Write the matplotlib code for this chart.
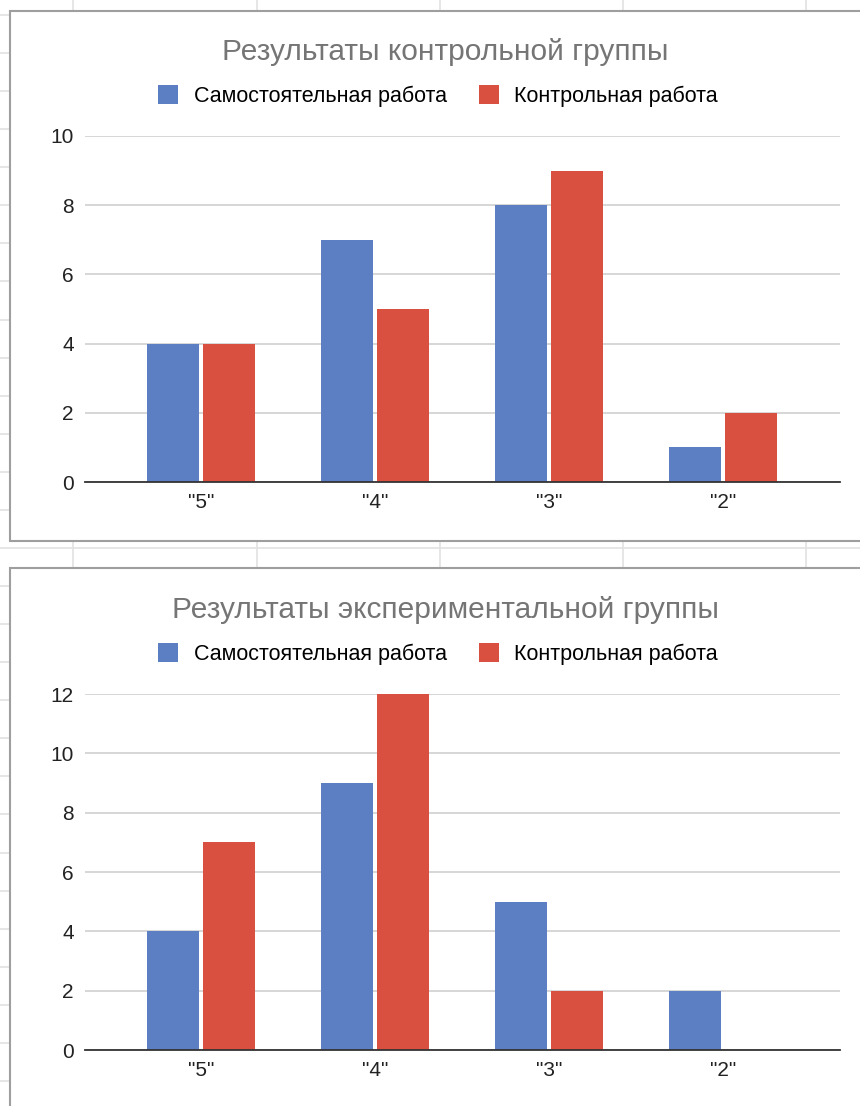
import numpy as np
import matplotlib.pyplot as plt
from matplotlib.patches import Rectangle, Patch

plt.rcParams['font.family'] = ['Liberation Sans', 'DejaVu Sans']

categories = ['"5"', '"4"', '"3"', '"2"']
series_names = ["Самостоятельная работа", "Контрольная работа"]

control_self = [4, 7, 8, 1]
control_test = [4, 5, 9, 2]
exp_self = [4, 9, 5, 2]
exp_test = [7, 12, 2, 0]

titles = ["Результаты контрольной группы", "Результаты экспериментальной группы"]

BLUE = "#5b7fc2"
RED = "#da5040"

W, H = 860, 1106
fig = plt.figure(figsize=(W / 100, H / 100), dpi=100)

# spreadsheet background: cell grid + chart frames
bg = fig.add_axes([0, 0, 1, 1], zorder=-5)
bg.set_xlim(0, W)
bg.set_ylim(H, 0)
bg.axis("off")
for x in [73, 257, 440, 623, 806]:
    bg.plot([x, x], [0, H], color="#e2e2e2", lw=1.2, zorder=1)
for y in np.arange(15, H, 38.07):
    bg.plot([0, W], [y, y], color="#e2e2e2", lw=1.2, zorder=1)
bg.add_patch(Rectangle((10, 11), 900, 530, facecolor="white", edgecolor="#9e9e9e",
                       lw=1.5, zorder=5))
bg.add_patch(Rectangle((10, 568), 900, 600, facecolor="white", edgecolor="#9e9e9e",
                       lw=1.5, zorder=5))


def draw_chart(ax, s1, s2, ymax, title, title_y, legend_y):
    x = np.arange(len(categories))
    w = 0.3
    ax.bar(x - 0.16, s1, w, color=BLUE, zorder=3)
    ax.bar(x + 0.16, s2, w, color=RED, zorder=3)
    ax.set_xlim(-0.667, 3.672)
    ax.set_ylim(0, ymax)
    ax.set_yticks(np.arange(0, ymax + 1, 2))
    ax.set_xticks(x)
    ax.set_xticklabels(categories)
    ax.patch.set_alpha(0)
    ax.tick_params(axis="both", length=0, labelsize=15, colors="#222222")
    ax.tick_params(axis="y", pad=8)
    ax.tick_params(axis="x", pad=8)
    ax.grid(axis="y", color="#cccccc", lw=1.1, zorder=0)
    for s in ["top", "right", "left"]:
        ax.spines[s].set_visible(False)
    ax.spines["bottom"].set_color("#333333")
    ax.spines["bottom"].set_linewidth(1.3)
    ax.spines["bottom"].set_zorder(4)
    fig.text(445 / W, 1 - title_y / H, title, ha="center", va="center",
             fontsize=21.5, color="#757575")
    handles = [Patch(facecolor=BLUE), Patch(facecolor=RED)]
    fig.legend(handles, series_names, loc="center", ncol=2,
               bbox_to_anchor=(438 / W, 1 - legend_y / H), frameon=False,
               fontsize=15.5, handlelength=0.95, handleheight=0.95,
               handletextpad=0.7, columnspacing=1.5)


ax1 = fig.add_axes([85 / W, 1 - 482 / H, 755 / W, 346 / H])
draw_chart(ax1, control_self, control_test, 10, titles[0], 52, 96)

ax2 = fig.add_axes([85 / W, 1 - 1050 / H, 755 / W, 356 / H])
draw_chart(ax2, exp_self, exp_test, 12, titles[1], 610, 654)

fig.savefig("out.png", dpi=100)
